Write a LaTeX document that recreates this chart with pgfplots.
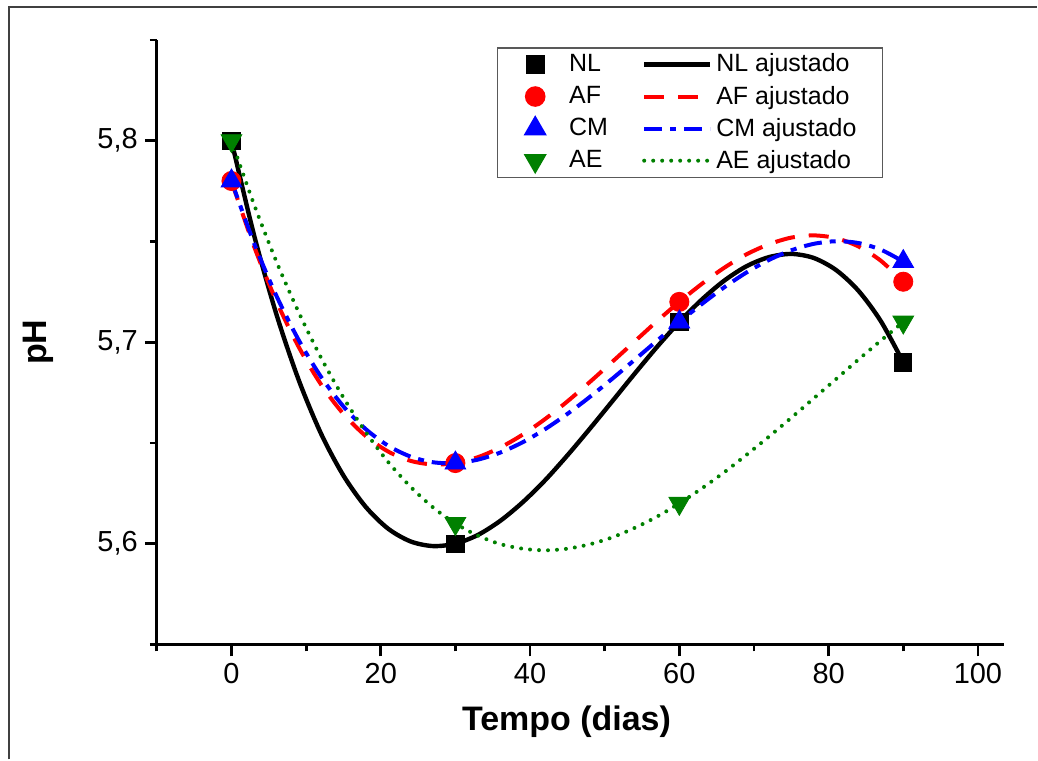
\documentclass[border=0pt]{standalone}
\usepackage{fontspec}
\setmainfont{Liberation Sans}
\usepackage{pgfplots}
\pgfplotsset{compat=1.18}
\definecolor{agreen}{RGB}{0,128,0}
\pgfplotsset{
 mkleg/.style={legend image code/.code={\path[draw=none,fill=none] (0pt,-5pt) rectangle (30pt,5pt); \draw[##1] plot coordinates {(15pt,0pt)};}},
 lnleg/.style={legend image code/.code={\draw[##1] (0pt,0pt) -- (33pt,0pt);}},
 nlfit/.style={black, line width=2.2pt, solid},
 affit/.style={red, line width=2pt, dash pattern=on 10pt off 7pt},
 cmfit/.style={blue, line width=2pt, dash pattern=on 9pt off 4pt on 3pt off 4pt},
 aefit/.style={agreen, line width=2pt, line cap=round, dash pattern=on 0pt off 4.5pt},
}
\begin{document}
\begin{tikzpicture}
\begin{axis}[
 scale only axis, width=424pt, height=302.5pt,
 xmin=-10, xmax=103.5, ymin=5.55, ymax=5.85,
 axis x line=bottom, axis y line=left, axis line style={-, line width=1.4pt},
 tick align=outside, major tick length=6pt, minor tick length=3.5pt,
 tick style={line width=1.4pt, black},
 xtick={0,20,40,60,80,100}, minor xtick={-10,10,30,50,70,90},
 ytick={5.6,5.7,5.8}, minor ytick={5.55,5.65,5.75,5.85},
 ticklabel style={font=\fontsize{14.5}{17}\selectfont},
 /pgf/number format/assume math mode=true,
 yticklabel style={/pgf/number format/.cd, fixed, fixed zerofill, precision=1, use comma},
 xlabel={Tempo (dias)}, ylabel={pH},
 label style={font=\bfseries\fontsize{17}{20}\selectfont},
 xlabel style={at={(axis description cs:0.4835,-0.1273)}, anchor=center},
 ylabel style={at={(axis description cs:-0.1403,0.5)}, anchor=center},
 clip=false,
 legend columns=2,
 legend cell align=left,
 legend style={at={(axis description cs:0.401,0.988)}, anchor=north west,
   draw=black!65, line width=0.7pt, fill=white,
   font=\fontsize{12.5}{14}\selectfont, row sep=1.5pt,
   inner xsep=4pt, inner ysep=1pt,
   /tikz/every even column/.append style={column sep=15pt}},
]
% fitted curves (drawn first, under the markers)
\addplot[nlfit, smooth, forget plot] coordinates {(0,5.8) (3,5.7535) (6,5.7141) (9,5.6813) (12,5.6546) (15,5.6338) (18,5.6182) (21,5.6074) (24,5.6011) (27,5.5988) (30,5.6) (33,5.6043) (36,5.6113) (39,5.6205) (42,5.6314) (45,5.6438) (48,5.6570) (51,5.6706) (54,5.6843) (57,5.6976) (60,5.71) (63,5.7211) (66,5.7305) (69,5.7377) (72,5.7422) (75,5.7438) (78,5.7418) (81,5.7358) (84,5.7255) (87,5.7104) (90,5.69)};
\addplot[affit, smooth, forget plot] coordinates {(0,5.78) (3,5.7478) (6,5.7205) (9,5.6977) (12,5.6790) (15,5.6644) (18,5.6534) (21,5.6457) (24,5.6411) (27,5.6393) (30,5.64) (33,5.6429) (36,5.6477) (39,5.6541) (42,5.6618) (45,5.6706) (48,5.6802) (51,5.6902) (54,5.7003) (57,5.7104) (60,5.72) (63,5.7289) (66,5.7369) (69,5.7436) (72,5.7486) (75,5.7519) (78,5.7530) (81,5.7516) (84,5.7475) (87,5.7404) (90,5.73)};
\addplot[cmfit, smooth, forget plot] coordinates {(0,5.78) (3,5.7494) (6,5.7232) (9,5.7011) (12,5.6828) (15,5.6681) (18,5.6568) (21,5.6486) (24,5.6432) (27,5.6404) (30,5.64) (33,5.6417) (36,5.6452) (39,5.6503) (42,5.6568) (45,5.6644) (48,5.6728) (51,5.6818) (54,5.6912) (57,5.7007) (60,5.71) (63,5.7189) (66,5.7272) (69,5.7346) (72,5.7408) (75,5.7456) (78,5.7488) (81,5.7501) (84,5.7492) (87,5.7459) (90,5.74)};
\addplot[aefit, smooth, forget plot] coordinates {(0,5.8) (3,5.7686) (6,5.7402) (9,5.7149) (12,5.6923) (15,5.6725) (18,5.6553) (21,5.6405) (24,5.6282) (27,5.6180) (30,5.61) (33,5.6040) (36,5.5998) (39,5.5975) (42,5.5967) (45,5.5975) (48,5.5997) (51,5.6031) (54,5.6078) (57,5.6134) (60,5.62) (63,5.6274) (66,5.6354) (69,5.6441) (72,5.6531) (75,5.6625) (78,5.6721) (81,5.6817) (84,5.6914) (87,5.7008) (90,5.71)};
% measured points
\addplot[only marks, mkleg, mark=square*, mark size=4.3pt, black] coordinates {(0,5.80) (30,5.60) (60,5.71) (90,5.69)};
\addlegendentry{NL}
\addlegendimage{nlfit, lnleg}
\addlegendentry{NL ajustado\kern7pt}
\addplot[only marks, mkleg, mark=*, mark size=4.8pt, red] coordinates {(0,5.78) (30,5.64) (60,5.72) (90,5.73)};
\addlegendentry{AF}
\addlegendimage{affit, lnleg}
\addlegendentry{AF ajustado\kern7pt}
\addplot[only marks, mkleg, mark=triangle*, mark size=6pt, blue] coordinates {(0,5.78) (30,5.64) (60,5.71) (90,5.74)};
\addlegendentry{CM}
\addlegendimage{cmfit, lnleg}
\addlegendentry{CM ajustado\kern7pt}
\addplot[only marks, mkleg, mark=triangle*, mark size=6pt, mark options={rotate=180}, agreen] coordinates {(0,5.80) (30,5.61) (60,5.62) (90,5.71)};
\addlegendentry{AE}
\addlegendimage{aefit, lnleg}
\addlegendentry{AE ajustado\kern7pt}
% outer frame of the figure
\draw[black!75, line width=1pt] (axis description cs:-0.1745,-0.1901) -- (axis description cs:-0.1745,1.0545) -- (axis description cs:1.0389,1.0545);
\path (axis description cs:-0.1851,-0.1901) rectangle (axis description cs:1.0389,1.0661);
\end{axis}
\end{tikzpicture}
\end{document}
